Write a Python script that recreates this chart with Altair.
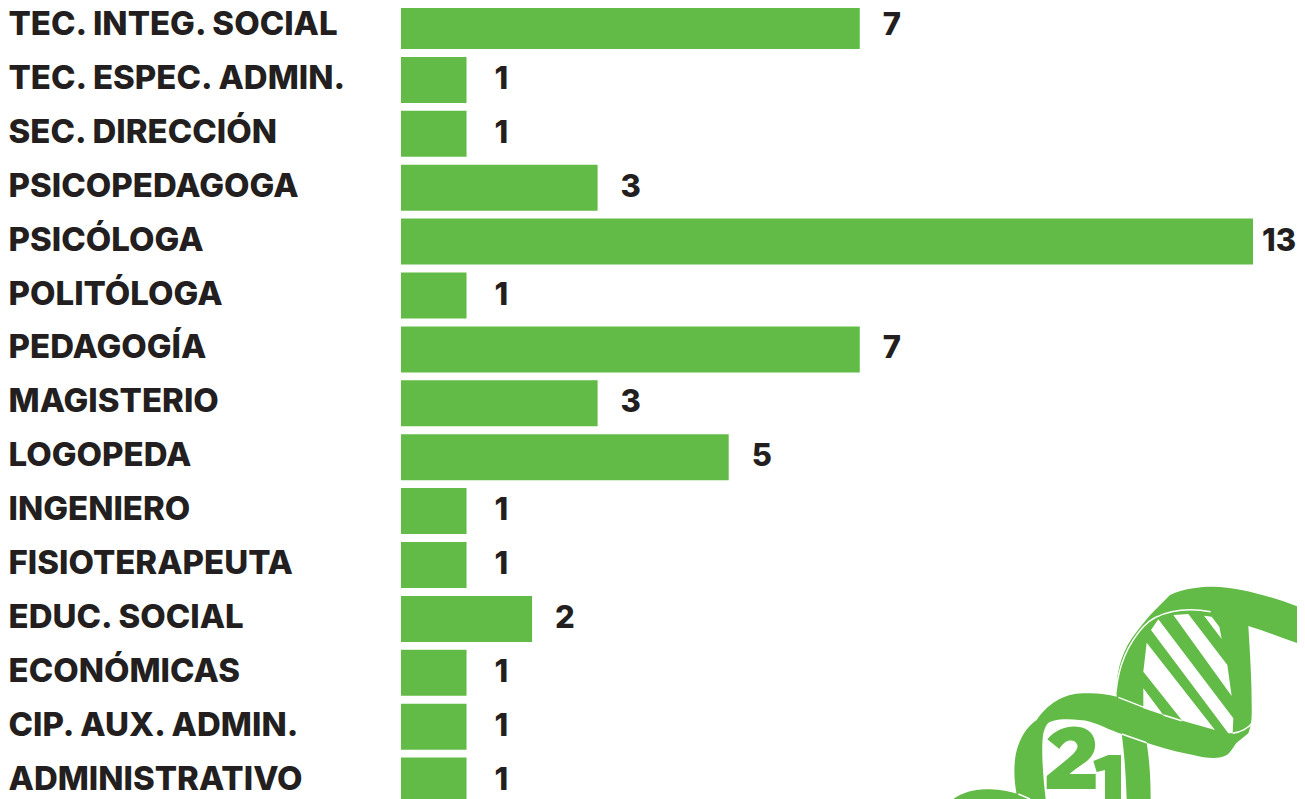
import altair as alt
import pandas as pd

categories = ["TEC. INTEG. SOCIAL", "TEC. ESPEC. ADMIN.", "SEC. DIRECCIÓN", "PSICOPEDAGOGA",
              "PSICÓLOGA", "POLITÓLOGA", "PEDAGOGÍA", "MAGISTERIO", "LOGOPEDA", "INGENIERO",
              "FISIOTERAPEUTA", "EDUC. SOCIAL", "ECONÓMICAS", "CIP. AUX. ADMIN.", "ADMINISTRATIVO"]
values = [7, 1, 1, 3, 13, 1, 7, 3, 5, 1, 1, 2, 1, 1, 1]

GREEN = "#62bb46"
INK = "#231f20"
FONT = "Inter"
FONT_SIZE = 33
VALUE_FONT_SIZE = 31
FONT_WEIGHT = 800
PX_PER_UNIT = 65.55
GAPS = {1: 28, 13: 9}

df = pd.DataFrame({"cat": categories, "val": values})
df["label_pos"] = [v + GAPS.get(v, 23) / PX_PER_UNIT for v in values]

y = alt.Y("cat:N", sort=None, title=None,
          scale=alt.Scale(range=[-8.95, 799.55], paddingInner=0, paddingOuter=0),
          axis=alt.Axis(domain=False, ticks=False, labelAlign="left", labelPadding=393,
                        labelBaseline="alphabetic", labelOffset=9, labelFont=FONT,
                        labelFontSize=FONT_SIZE, labelFontWeight=FONT_WEIGHT, labelColor=INK,
                        labelLimit=0, labelOverlap=False, grid=False))
x = alt.X("val:Q", title=None, axis=None, scale=alt.Scale(domain=[0, 13], range=[0, 852]))

bars = alt.Chart(df).mark_bar(size=46, color=GREEN).encode(x=x, y=y)
text = alt.Chart(df).mark_text(align="left", baseline="alphabetic", dy=9, font=FONT,
                               fontSize=VALUE_FONT_SIZE, fontWeight=FONT_WEIGHT, color=INK).encode(
    x=alt.X("label_pos:Q", axis=None, title=None, scale=alt.Scale(domain=[0, 13], range=[0, 852])),
    y=y, text="val:Q")

# Decorative DNA logo, drawn as vector symbols in the reference's own 3x crop units
LOGO_GREEN = " ".join([
    "M640,125 L690,75 C730,55 780,50 820,50 C900,52 1000,80 1095,118 L1095,228 C1040,208 980,185 925,168"
    " C930,250 935,330 935,400 C936,440 935,465 925,490 L890,518 C880,530 870,550 860,555 C840,568 800,566 760,555"
    " C710,545 670,535 620,518 C630,580 632,640 632,687 L560,687 C558,620 553,550 545,492"
    " C510,480 480,463 450,455 C420,448 370,445 340,452 C320,456 316,470 310,490 C303,530 308,610 317,687"
    " L233,687 C222,640 220,590 228,550 C238,505 260,470 290,450 C320,405 370,370 430,370 C470,368 500,372 530,380"
    " C526,310 545,240 590,185 C610,160 625,140 640,125 Z",
    "M40,687 C70,665 110,655 150,658 C200,660 240,672 272,687 Z",
])
LOGO_WHITE = " ".join([
    "M700,135 L745,132 L862,285 L875,378 Z",
    "M792,137 L815,140 L838,170 L845,207 Z",
    "M655,148 L633,180 L865,490 L878,490 L880,445 Z",
    "M620,218 L610,305 L727,452 L825,480 Z",
    "M610,355 L610,415 L670,435 Z",
])
LOGO_DIGITS = " ".join([
    "M322,508 C345,480 380,468 410,470 C450,472 468,500 465,530 C462,560 440,575 410,595 L388,612 L467,612 L467,657"
    " L320,657 L320,618 L385,565 C405,548 415,535 412,525 C408,512 395,510 385,512 C375,514 365,525 358,537 Z",
    "M460,573 L505,555 L543,555 L543,687 L495,687 L495,600 L470,606 Z",
])
LOGO_LINES = " ".join([
    "M528,365 C535,290 565,220 610,170 C650,125 730,110 812,125",
    "M535,382 L612,412",
    "M545,492 L620,518",
    "M670,435 L725,452",
    "M878,490 C900,488 925,475 935,460",
    "M235,672 L270,687",
])
LOGO_SIZE = 4 / 9
one = pd.DataFrame({"a": [0]})
def logo(path, **kw):
    return alt.Chart(one).mark_point(shape=path, size=LOGO_SIZE, opacity=1, **kw).encode(
        x=alt.value(539), y=alt.value(562))

layers = [
    bars, text,
    logo(LOGO_GREEN, filled=True, fill=GREEN, strokeWidth=0),
    logo(LOGO_WHITE, filled=True, fill="white", strokeWidth=0),
    logo(LOGO_DIGITS, filled=True, fill=GREEN, strokeWidth=0),
    logo(LOGO_LINES, filled=False, stroke="white", strokeWidth=1.5, fill="transparent"),
]

chart = alt.layer(*layers).properties(
    width=896, height=791,
    padding={"left": 393, "top": 0, "right": 0, "bottom": 0},
    autosize=alt.AutoSizeParams(type="none"),
    background="white",
).configure_view(stroke=None)

chart.save("out.html", embed_options={"renderer": "svg", "actions": False})
